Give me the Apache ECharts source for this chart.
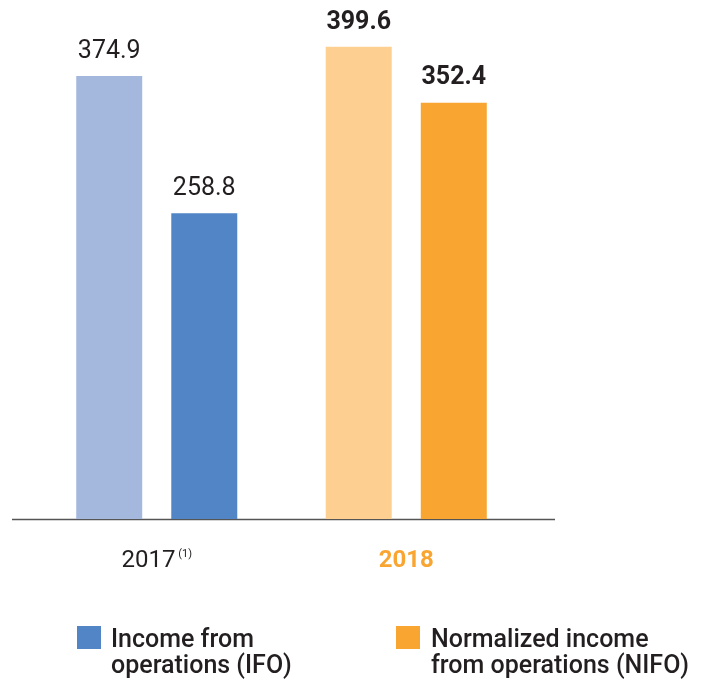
<!DOCTYPE html>
<html><head><meta charset="utf-8">
<script src="https://cdn.jsdelivr.net/npm/echarts@6/dist/echarts.min.js"></script>
<style>html,body{margin:0;padding:0;background:#fff}#c{width:702px;height:682px}</style>
</head><body><div id="c"></div>
<script>
const categories = ['2017', '2018'];
const firstBars = [374.9, 399.6];
const secondBars = [258.8, 352.4];
const legendLabels = ['Income from\noperations (IFO)', 'Normalized income\nfrom operations (NIFO)'];

const FONT = 'Roboto';
const txt = '#231f20';
const firstColors = ['#a4b8de', '#fdcf91'];
const secondColors = ['#5285c6', '#f8a532'];

function mk(values, colors) {
  return values.map((v, i) => ({
    value: v,
    itemStyle: { color: colors[i] },
    label: { fontWeight: i === 1 ? 'bold' : 'normal' }
  }));
}

const chart = echarts.init(document.getElementById('c'), null, { renderer: 'canvas' });
chart.setOption({
  animation: false,
  grid: { left: 32, right: 171, top: 46.4, bottom: 163 },
  xAxis: {
    type: 'category',
    data: categories,
    axisLine: { show: false },
    axisTick: { show: false },
    axisLabel: {
      margin: 30,
      fontFamily: FONT,
      formatter: function (v, i) { return i === 0 ? '{a|' + v + '}{s| (1)}' : '{b|' + v + '}'; },
      rich: {
        a: { fontSize: 24, color: txt, fontFamily: FONT },
        s: { fontSize: 11, color: txt, fontFamily: FONT, verticalAlign: 'top', padding: [0, 0, 12, 0] },
        b: { fontSize: 24, color: '#f8a532', fontWeight: 'bold', fontFamily: FONT }
      }
    }
  },
  yAxis: { type: 'value', min: 0, max: 400, show: false, splitLine: { show: false } },
  series: [
    {
      type: 'bar', data: mk(firstBars, firstColors), barWidth: 66, barGap: '44%',
      label: { show: true, position: 'top', distance: 12, fontSize: 25, color: txt, fontFamily: FONT,
        formatter: p => p.value.toFixed(1) }
    },
    {
      type: 'bar', data: mk(secondBars, secondColors), barWidth: 66, barGap: '44%',
      label: { show: true, position: 'top', distance: 12, fontSize: 25, color: txt, fontFamily: FONT,
        formatter: p => p.value.toFixed(1) }
    }
  ],
  graphic: [
    { type: 'line', shape: { x1: 12, y1: 519.5, x2: 555, y2: 519.5 }, style: { stroke: '#555', lineWidth: 1.5 } },
    { type: 'rect', shape: { x: 77, y: 626, width: 24, height: 23 }, style: { fill: secondColors[0] } },
    { type: 'text', left: 111, top: 628, style: { text: legendLabels[0], font: '500 25px ' + FONT, fill: txt, lineHeight: 26 } },
    { type: 'rect', shape: { x: 396, y: 626, width: 24, height: 23 }, style: { fill: secondColors[1] } },
    { type: 'text', left: 431, top: 628, style: { text: legendLabels[1], font: '500 25px ' + FONT, fill: txt, lineHeight: 26 } }
  ]
});
</script></body></html>
